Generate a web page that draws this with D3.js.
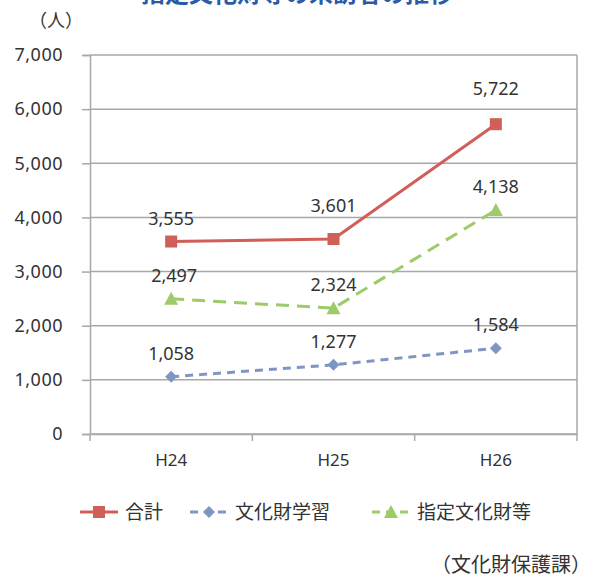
<!DOCTYPE html>
<html><head><meta charset="utf-8">
<script src="https://cdn.jsdelivr.net/npm/d3@7"></script>
<style>body{margin:0;background:#fff;}svg{display:block;}</style>
</head><body>
<svg id="c" width="595" height="578"></svg>
<script>
const categories = ["H24", "H25", "H26"];
const seriesNames = ["合計", "文化財学習", "指定文化財等"];
const totalValues = [3555, 3601, 5722];
const learningValues = [1058, 1277, 1584];
const designatedValues = [2497, 2324, 4138];
const yTicks = [0, 1000, 2000, 3000, 4000, 5000, 6000, 7000];

const svg = d3.select("#c");
const m = {left: 90, right: 577, top: 55, bottom: 434};
const numFont = "'Noto Sans', 'DejaVu Sans', sans-serif";
const jpFont = "'Noto Sans CJK JP', sans-serif";
const textCol = "#333";

const x = d3.scaleBand().domain(categories).range([m.left, m.right]);
const y = d3.scaleLinear().domain([0, 7000]).range([m.bottom, m.top]);

// title (cut off at the top edge, as in the reference)
svg.append("text").attr("x", 297).attr("y", 2).attr("text-anchor", "middle")
  .attr("font-family", jpFont).attr("font-size", 24).attr("font-weight", "bold")
  .attr("fill", "#2b5aa8").text("指定文化財等の来訪者の推移");

svg.append("text").attr("x", 56).attr("y", 27).attr("text-anchor", "middle")
  .attr("font-family", jpFont).attr("font-size", 18).attr("fill", textCol).text("（人）");

// gridlines
svg.append("g").selectAll("line").data(yTicks).join("line")
  .attr("x1", m.left).attr("x2", m.right)
  .attr("y1", d => y(d)).attr("y2", d => y(d))
  .attr("stroke", "#a8a8a8").attr("stroke-width", 1.5);

// y axis
const yAxis = svg.append("g").attr("transform", `translate(${m.left},0)`)
  .call(d3.axisLeft(y).tickValues(yTicks).tickFormat(d3.format(",")).tickSize(8).tickPadding(19));
yAxis.select(".domain").attr("stroke", "#a8a8a8").attr("stroke-width", 1.5);
yAxis.selectAll(".tick line").attr("stroke", "#a8a8a8").attr("stroke-width", 1.5);
yAxis.selectAll("text").attr("font-family", numFont).attr("font-size", 18)
  .attr("letter-spacing", 0.5).attr("fill", textCol);

// right border
svg.append("line").attr("x1", m.right).attr("x2", m.right).attr("y1", m.top).attr("y2", m.bottom)
  .attr("stroke", "#a8a8a8").attr("stroke-width", 1.5);

// x axis
const xAxis = svg.append("g").attr("transform", `translate(0,${m.bottom})`)
  .call(d3.axisBottom(x).tickSize(0).tickPadding(20));
xAxis.select(".domain").attr("stroke", "#a8a8a8").attr("stroke-width", 1.5);
xAxis.selectAll("text").attr("font-family", numFont).attr("font-size", 17).attr("fill", textCol);
const bounds = categories.map(c => x(c)).concat([m.right]);
svg.append("g").selectAll("line").data(bounds).join("line")
  .attr("x1", d => d).attr("x2", d => d).attr("y1", m.bottom).attr("y2", m.bottom + 7)
  .attr("stroke", "#a8a8a8").attr("stroke-width", 1.5);

const cx = c => x(c) + x.bandwidth() / 2;
const series = [
  {name: seriesNames[0], values: totalValues, color: "#cf5f58", dash: null, marker: "square"},
  {name: seriesNames[1], values: learningValues, color: "#7f96c4", dash: "8,6", marker: "diamond"},
  {name: seriesNames[2], values: designatedValues, color: "#9dcb6a", dash: "13,8", marker: "triangle"}
];

function drawMarker(g, type, color, px, py) {
  if (type === "square") {
    g.append("rect").attr("x", px - 6).attr("y", py - 6).attr("width", 12).attr("height", 12).attr("fill", color);
  } else if (type === "diamond") {
    g.append("path").attr("d", `M${px},${py-6}L${px+6},${py}L${px},${py+6}L${px-6},${py}Z`).attr("fill", color);
  } else {
    g.append("path").attr("d", `M${px},${py-7}L${px+7},${py+6}L${px-7},${py+6}Z`).attr("fill", color);
  }
}

const line = d3.line().x((d, i) => cx(categories[i])).y(d => y(d));
// label nudges (matching reference)
const extraUp = {"0-1": 10, "0-2": 12};

series.forEach((s, si) => {
  const g = svg.append("g");
  g.append("path").attr("d", line(s.values)).attr("fill", "none")
    .attr("stroke", s.color).attr("stroke-width", 3)
    .attr("stroke-dasharray", s.dash);
  s.values.forEach((v, i) => {
    drawMarker(g, s.marker, s.color, cx(categories[i]), y(v));
    const up = 17 + (extraUp[si + "-" + i] || 0);
    g.append("text").attr("x", cx(categories[i]) + (si === 2 && i === 0 ? 3 : 0)).attr("y", y(v) - up)
      .attr("text-anchor", "middle").attr("font-family", numFont).attr("font-size", 18)
      .attr("fill", textCol).text(d3.format(",")(v));
  });
});

// legend
const legendX = [80, 190, 372];
const legendY = 512;
series.forEach((s, si) => {
  const g = svg.append("g");
  const x0 = legendX[si];
  g.append("line").attr("x1", x0).attr("x2", x0 + 38).attr("y1", legendY).attr("y2", legendY)
    .attr("stroke", s.color).attr("stroke-width", 3).attr("stroke-dasharray", s.dash ? "8,6" : null);
  drawMarker(g, s.marker, s.color, x0 + 19, legendY);
  g.append("text").attr("x", x0 + 45).attr("y", legendY + 7).attr("font-family", jpFont)
    .attr("font-size", 19).attr("fill", textCol).text(s.name);
});

svg.append("text").attr("x", 591).attr("y", 572).attr("text-anchor", "end")
  .attr("font-family", jpFont).attr("font-size", 20).attr("fill", textCol).text("（文化財保護課）");
</script>
</body></html>
